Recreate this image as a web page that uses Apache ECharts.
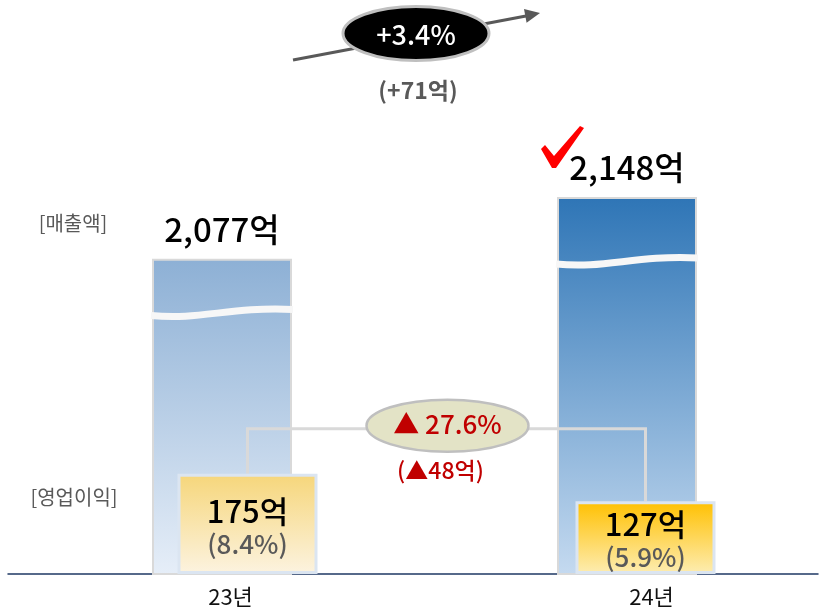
<!DOCTYPE html>
<html><head><meta charset="utf-8">
<script src="https://cdn.jsdelivr.net/npm/echarts@6/dist/echarts.min.js"></script>
<style>html,body{margin:0;padding:0;background:#fff}#c{width:819px;height:614px}</style>
</head><body><div id="c"></div>
<script>
// ---- data ----
const years = ['23년', '24년'];
const revenue = [2077, 2148];          // 매출액 (억)
const opProfit = [175, 127];           // 영업이익 (억)
const profitChangeRate = '27.6%';      // 영업이익 증감률 (as printed)
const unit = '억';
const revAxisRange = [1716, 2259];     // broken revenue axis
const profitAxisRange = [0, 827];

// ---- styles ----
const FONT = '"Noto Sans CJK KR", "Noto Sans", sans-serif';
const revColors = [['#8db0d5', '#e6eef8'], ['#2e75b6', '#c5daf0']];
const profitColors = [['#f6d67a', '#fcf3e0'], ['#ffc000', '#fdedb3']];
const grad = c => ({type: 'linear', x: 0, y: 0, x2: 0, y2: 1,
  colorStops: [{offset: 0, color: c[0]}, {offset: 1, color: c[1]}]});
const fmt = v => v.toLocaleString('en-US') + unit;
const BAR_W = 140;

const revDiff = revenue[1] - revenue[0];
const revRate = (revDiff / revenue[0] * 100).toFixed(1);
const profitDiff = Math.abs(opProfit[1] - opProfit[0]);

const TOP = 100, BOTTOM = 40;
const g = (l, r) => ({left: l, right: r, top: TOP, bottom: BOTTOM, outerBoundsMode: 'none', containLabel: false});

const chart = echarts.init(document.getElementById('c'));
chart.setOption({
  animation: false,
  backgroundColor: '#fff',
  grid: [g(8, 1), g(19.5, -10.5), g(48.5, -25.5), g(20, -43)],
  xAxis: [
    {gridIndex: 0, type: 'category', data: years,
      axisLine: {onZero: false, lineStyle: {color: '#1f3864', width: 1.5}},
      axisTick: {show: false}, axisLabel: {show: false}},
    {gridIndex: 1, type: 'category', data: years, show: false},
    {gridIndex: 2, type: 'category', data: years, show: false},
    {gridIndex: 3, type: 'category', data: years,
      axisLine: {show: false}, axisTick: {show: false},
      axisLabel: {fontSize: 22, color: '#111', margin: 12, fontFamily: FONT}}
  ],
  yAxis: [
    {gridIndex: 0, type: 'value', show: false},
    {gridIndex: 1, type: 'value', min: revAxisRange[0], max: revAxisRange[1], show: false},
    {gridIndex: 2, type: 'value', min: profitAxisRange[0], max: profitAxisRange[1], show: false},
    {gridIndex: 3, type: 'value', show: false}
  ],
  series: [
    {
      type: 'bar', xAxisIndex: 1, yAxisIndex: 1, barWidth: BAR_W, z: 2,
      data: revenue.map((v, i) => ({value: v, itemStyle: {color: grad(revColors[i])}})),
      itemStyle: {borderColor: '#d9d9d9', borderWidth: 2},
      label: {show: true, position: 'top', distance: 13, formatter: p => fmt(p.value),
        fontSize: 33, color: '#000', fontFamily: FONT, fontWeight: 500}
    },
    {
      type: 'custom', xAxisIndex: 1, yAxisIndex: 1, z: 3, silent: true,
      data: revenue.map((v, i) => [i, v]),
      renderItem: (params, api) => {
        const top = api.coord([api.value(0), api.value(1)]);
        const cs = params.coordSys;
        const base = cs.y + cs.height;
        const y = top[1] + 0.17 * (base - top[1]);
        const half = BAR_W / 2 + 1;
        const x0 = top[0] - half, x1 = top[0] + half, w = x1 - x0;
        return {type: 'path',
          shape: {pathData: `M${x0} ${y + 3} C${x0 + w * 0.35} ${y + 8} ${x0 + w * 0.55} ${y - 6} ${x1} ${y - 3}`},
          style: {fill: 'none', stroke: '#f7f7f7', lineWidth: 7}};
      }
    },
    {
      type: 'custom', xAxisIndex: 2, yAxisIndex: 2, z: 4, silent: true,
      data: [[0, opProfit[0], opProfit[1]]],
      encode: {x: 0, y: [1, 2]},
      renderItem: (params, api) => {
        const p0 = api.coord([0, api.value(1)]);
        const p1 = api.coord([1, api.value(2)]);
        const ly = Math.min(p0[1], p1[1]) - 45;
        const mx = (p0[0] + p1[0]) / 2;
        return {type: 'group', children: [
          {type: 'polyline', shape: {points: [[p0[0], p0[1]], [p0[0], ly], [p1[0], ly], [p1[0], p1[1]]]},
            style: {stroke: '#d9d9d9', lineWidth: 3, fill: 'none'}},
          {type: 'ellipse', shape: {cx: mx + 1, cy: ly - 3, rx: 81, ry: 26},
            style: {fill: '#e3e3c6', stroke: '#bfbfbf', lineWidth: 2.5}},
          {type: 'text', style: {text: '▲ ' + profitChangeRate, x: mx + 1, y: ly - 5,
            align: 'center', verticalAlign: 'middle', fill: '#c00000',
            fontSize: 26, fontWeight: 500, fontFamily: FONT}},
          {type: 'text', style: {text: '(▲' + profitDiff + unit + ')', x: mx - 6, y: ly + 42,
            align: 'center', verticalAlign: 'middle', fill: '#c00000',
            fontSize: 23, fontWeight: 500, fontFamily: FONT}}
        ]};
      }
    },
    {
      type: 'bar', xAxisIndex: 2, yAxisIndex: 2, barWidth: BAR_W, z: 5,
      data: opProfit.map((v, i) => ({value: v, itemStyle: {color: grad(profitColors[i])}})),
      itemStyle: {borderColor: '#dbe5f1', borderWidth: 3},
      label: {show: true, position: 'inside', offset: [0, 2],
        formatter: p => `{a|${p.value}${unit}}\n{b|(${(p.value / revenue[p.dataIndex] * 100).toFixed(1)}%)}`,
        rich: {
          a: {fontSize: 31, color: '#000', fontFamily: FONT, fontWeight: 500, lineHeight: 36},
          b: {fontSize: 26, color: '#595959', fontFamily: FONT, fontWeight: 500, lineHeight: 30}
        }}
    }
  ],
  graphic: [
    {type: 'line', shape: {x1: 293, y1: 60, x2: 526, y2: 16}, style: {stroke: '#595959', lineWidth: 3}, z: 10},
    {type: 'polygon', shape: {points: [[540, 13], [526.6, 22.7], [524, 8.9]]}, style: {fill: '#595959'}, z: 10},
    {type: 'ellipse', shape: {cx: 416, cy: 33.5, rx: 73, ry: 27}, style: {fill: '#000', stroke: '#bfbfbf', lineWidth: 3}, z: 11},
    {type: 'text', x: 416, y: 35, style: {text: '+' + revRate + '%', fill: '#fff', fontSize: 27, fontWeight: 500, fontFamily: FONT,
      align: 'center', verticalAlign: 'middle'}, z: 12},
    {type: 'text', x: 418, y: 90, style: {text: '(+' + revDiff + unit + ')', fill: '#595959', fontSize: 23, fontWeight: 'bold',
      fontFamily: FONT, align: 'center', verticalAlign: 'middle'}, z: 12},
    {type: 'polygon', shape: {points: [[541, 149], [545, 145], [554, 156], [580, 126], [584, 128], [556, 168], [552, 168]]},
      style: {fill: '#ff0000'}, z: 12},
    {type: 'text', x: 73, y: 223, style: {text: '[매출액]', fill: '#595959', fontSize: 20, fontFamily: FONT,
      align: 'center', verticalAlign: 'middle'}, z: 12},
    {type: 'text', x: 74, y: 497, style: {text: '[영업이익]', fill: '#595959', fontSize: 20, fontFamily: FONT,
      align: 'center', verticalAlign: 'middle'}, z: 12}
  ]
});
</script></body></html>
